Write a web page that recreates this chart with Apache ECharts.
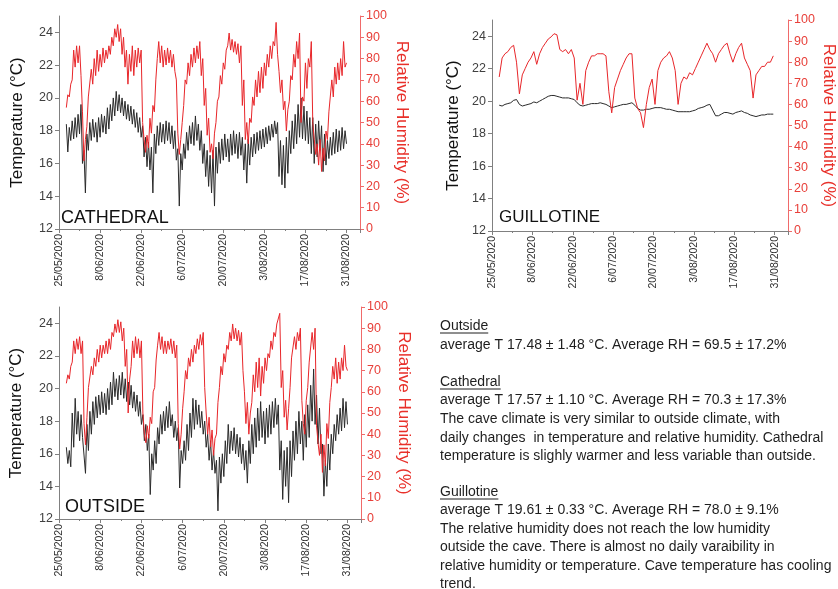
<!DOCTYPE html>
<html><head><meta charset="utf-8">
<script src="https://cdn.jsdelivr.net/npm/echarts@6/dist/echarts.min.js"></script>
<style>html,body{margin:0;padding:0;background:#fff}#c{width:838px;height:589px}</style>
</head><body><div id="c"></div>
<script>
// ---------------- DATA ----------------
// x axis: days since 25/05/2020; major ticks every 14 days
const dateTickLabels = ['25/05/2020','8/06/2020','22/06/2020','6/07/2020','20/07/2020','3/08/2020','17/08/2020','31/08/2020'];
const firstSampleDay = 2.5;   // 27/05/2020 12:00
// Cathedral & Outside: one reading every 12 h (midday, midnight)
const cathedralTemp = [
18.4,16.7, 18.2,17.4, 18.6,17.5, 18.8,17.6, 19.0,17.8, 19.6,16.0, 16.8,14.2, 17.8,16.8,
18.5,17.4, 18.7,17.6, 18.5,17.3, 18.8,17.6, 19.0,17.9, 18.9,17.8, 19.4,18.1, 19.6,18.6,
20.0,18.9, 20.4,19.2, 20.2,19.1, 20.0,18.9, 19.8,18.7, 19.6,18.6, 19.5,18.4, 19.3,18.2,
19.1,17.9, 18.8,17.6, 18.3,16.4, 17.6,15.8, 17.3,15.6, 17.0,14.2, 17.8,16.6, 18.3,17.1,
18.5,17.3, 18.4,17.2, 18.6,17.4, 18.5,17.2, 18.3,16.9, 18.0,16.2, 16.9,13.4, 16.6,15.6,
17.2,16.3, 17.9,16.8, 18.3,17.2, 18.5,17.1, 18.9,17.4, 18.4,16.8, 18.0,16.0, 17.2,15.2,
16.8,14.6, 16.5,14.2, 16.8,13.4, 17.0,15.4, 17.3,16.0, 17.5,16.2, 17.8,16.4, 17.5,16.1,
17.8,16.5, 18.0,16.6, 17.8,16.3, 17.9,16.5, 17.6,15.6, 17.2,14.8, 17.5,15.9, 17.6,16.4,
17.8,16.6, 17.9,16.8, 18.0,16.9, 18.1,17.0, 18.2,17.2, 18.3,17.4, 18.4,17.6, 18.6,17.8,
18.5,15.2, 17.4,14.7, 17.1,14.5, 17.6,15.4, 18.0,16.6, 18.6,16.9, 19.0,17.2, 19.6,17.6,
20.0,17.5, 19.5,17.4, 19.2,17.2, 18.8,16.6, 18.8,16.0, 18.4,16.4, 18.6,16.8, 18.3,15.5,
17.8,15.9, 17.4,16.3, 17.6,16.5, 17.9,16.6, 18.1,16.7, 18.0,16.8, 18.2,16.9, 18.0,17.2
];
const cathedralRH = [
57,63, 62,68, 70,84, 76,86, 78,86, 72,55, 32,42, 48,62,
62,75, 68,80, 72,84, 74,82, 76,85, 78,84, 80,86, 82,90,
86,94, 90,96, 88,94, 82,90, 76,84, 68,82, 74,86, 72,84,
76,85, 78,84, 50,42, 36,44, 38,52, 45,58, 55,70, 80,88,
78,86, 76,84, 77,85, 78,84, 76,82, 74,70, 45,35, 42,50,
58,70, 68,78, 72,82, 76,85, 78,86, 80,88, 72,80, 58,66,
44,52, 36,40, 33,45, 50,60, 62,72, 68,78, 75,84, 86,92,
84,89, 83,88, 82,87, 78,86, 58,70, 42,50, 40,52, 50,62,
58,70, 62,74, 64,76, 66,78, 72,82, 76,86, 80,88, 86,97,
82,74, 64,70, 56,60, 46,56, 60,72, 70,82, 76,88, 80,92,
50,62, 60,78, 66,80, 76,88, 50,42, 35,40, 30,42, 27,38,
32,46, 42,55, 55,70, 62,76, 68,78, 70,80, 72,88, 76,78
];
const outsideTemp = [
16.4,15.4, 16.2,15.2, 18.5,16.4, 19.4,17.2, 18.6,16.8, 18.4,17.0, 17.0,14.8, 17.8,16.2,
18.6,17.2, 19.2,17.8, 19.5,18.2, 19.6,18.4, 19.8,18.5, 19.7,18.4, 20.0,18.7, 20.4,19.0,
21.0,19.5, 20.6,19.3, 20.8,19.6, 21.0,19.4, 20.6,19.2, 20.4,19.0, 20.2,18.8, 19.8,18.6,
19.6,18.3, 19.2,17.8, 18.4,16.8, 17.8,16.2, 17.2,13.5, 16.0,15.0, 16.8,15.4, 17.6,16.6,
18.4,17.2, 18.6,17.4, 18.9,17.6, 19.2,17.7, 18.4,17.0, 18.0,16.8, 17.6,13.9, 16.2,15.4,
16.8,15.6, 17.8,16.2, 18.5,17.0, 19.4,17.5, 19.3,17.8, 19.0,17.6, 18.6,17.2, 18.0,16.4,
17.2,15.6, 16.8,15.0, 16.2,14.8, 15.6,12.5, 15.8,14.2, 16.0,14.6, 16.8,15.4, 17.8,16.0,
17.4,16.2, 17.6,16.0, 17.2,15.8, 17.0,15.4, 16.6,15.0, 16.2,14.2, 16.8,15.4, 17.8,16.0,
18.2,16.4, 18.8,16.8, 19.2,17.0, 18.6,16.6, 18.8,17.0, 19.0,17.2, 19.2,17.6, 19.4,17.8,
19.0,15.0, 16.8,13.2, 16.2,14.0, 16.4,13.0, 16.8,14.6, 17.4,15.6, 18.0,16.0, 18.6,16.6,
18.0,15.6, 18.4,16.4, 19.0,17.0, 20.2,18.0, 21.2,17.8, 19.6,16.6, 18.8,16.0, 16.6,13.4,
15.6,14.0, 16.6,15.0, 17.2,16.0, 17.8,16.8, 18.4,17.2, 18.8,17.4, 19.4,17.6, 19.2,17.8
];
const outsideRH = [
64,68, 66,72, 74,84, 78,85, 80,86, 78,84, 45,35, 48,62,
62,72, 68,76, 72,80, 74,82, 76,82, 78,84, 78,85, 80,88,
86,92, 88,94, 88,93, 84,90, 72,80, 50,66, 72,84, 76,86,
78,85, 76,84, 50,40, 36,44, 38,48, 45,60, 62,75, 82,88,
80,86, 78,84, 78,84, 80,85, 78,84, 76,82, 45,33, 40,52,
60,70, 66,76, 72,80, 74,82, 78,85, 80,87, 82,88, 62,50,
40,48, 34,42, 30,38, 40,55, 62,72, 68,78, 74,82, 80,88,
84,92, 85,90, 84,89, 82,88, 70,60, 45,55, 40,50, 55,68,
60,74, 62,76, 58,72, 64,76, 70,78, 76,84, 80,88, 86,92,
92,97, 62,70, 48,56, 42,52, 62,76, 76,86, 80,88, 84,90,
56,45, 40,56, 62,74, 74,88, 80,90, 44,36, 30,40, 22,35,
25,45, 38,55, 62,72, 66,76, 64,74, 66,76, 70,82, 72,70
];
// Guillotine: one reading per day
const guillotineTemp = [
19.75,19.7,19.8,19.85,19.9,20.05,20.1,19.8,19.7,19.75,19.8,19.85,19.95,19.9,20.0,20.1,
20.2,20.3,20.35,20.35,20.3,20.25,20.2,20.2,20.2,20.15,20.1,19.9,19.75,19.7,19.75,19.8,
19.85,19.85,19.85,19.9,19.85,19.8,19.7,19.6,19.65,19.7,19.75,19.8,19.8,19.85,19.9,19.75,
19.55,19.45,19.45,19.5,19.5,19.55,19.6,19.6,19.6,19.55,19.5,19.5,19.45,19.4,19.35,19.35,
19.35,19.35,19.35,19.4,19.45,19.55,19.6,19.65,19.75,19.8,19.45,19.1,19.1,19.2,19.3,19.3,
19.25,19.2,19.3,19.35,19.4,19.3,19.25,19.15,19.1,19.05,19.1,19.15,19.15,19.2,19.2,19.2
];
const guillotineRH = [
73,82,84,85,87,88,80,65,74,77,80,82,85,79,84,87,
89,91,92,93.5,93,86,85,86,84,86,82,62,70,60,76,80,
83,83,84,84,84,83,66,56,68,72,76,79,82,84,84,63,
58,56,49,60,68,72,60,76,80,82,83,85,82,76,60,70,
73,72,75,74,77,80,83,86,89,86,84,80,84,86,88,89,
84,80,84,87,89,82,79,76,63,74,76,78,78,80,80,83
];
const panelNames = ['CATHEDRAL','GUILLOTINE','OUTSIDE'];
const noteLines = [
  {text:'Outside', head:true},
  {text:'average T 17.48 \u00b1 1.48 \u00b0C. Average RH = 69.5 \u00b1 17.2%'},
  {text:'Cathedral', head:true},
  {text:'average T 17.57 \u00b1 1.10 \u00b0C. Average RH = 70.3 \u00b1 17.3%'},
  {text:'The cave climate is very similar to outside climate, with'},
  {text:'daily changes  in temperature and relative humidity. Cathedral'},
  {text:'temperature is slighly warmer and less variable than outside.'},
  {text:'Guillotine', head:true},
  {text:'average T 19.61 \u00b1 0.33 \u00b0C. Average RH = 78.0 \u00b1 9.1%'},
  {text:'The relative humidity does not reach the low humidity'},
  {text:'outside the cave. There is almost no daily varaibility in'},
  {text:'relative humidity or temperature. Cave temperature has cooling'},
  {text:'trend.'}
];

// ---------------- CHART ----------------
const FONT = 'Liberation Sans, Arial, sans-serif';
const halfDay = arr => arr.map((v, i) => [firstSampleDay + i * 0.5, v]);
const daily = arr => arr.map((v, i) => [firstSampleDay + i, v]);

const grids = [
  {left: 59, top: 16, width: 301, height: 213},
  {left: 492, top: 20, width: 301, height: 211},
  {left: 59, top: 307, width: 302, height: 212}
];
const leftGap = [33, 30, 34], rightGap = [33, 32, 34];

const xAxes = grids.map((g, i) => ({
  type: 'value', gridIndex: i, min: 0, max: 102.6, interval: 14,
  axisLine: {onZero: false, lineStyle: {color: '#808080', width: 1}},
  axisTick: {show: true, length: 4, lineStyle: {color: '#808080'}},
  minorTick: {show: true, splitNumber: 2, length: 2, lineStyle: {color: '#808080'}},
  splitLine: {show: false},
  axisLabel: {rotate: 90, fontSize: 10.5, fontFamily: FONT, color: '#303030', margin: 5, showMaxLabel: false,
    formatter: v => (Math.abs(v % 14) < 1e-6 ? (dateTickLabels[Math.round(v / 14)] || '') : '')}
}));
const yAxes = [];
grids.forEach((g, i) => {
  yAxes.push({
    type: 'value', gridIndex: i, position: 'left', min: 12, max: 25, interval: 2,
    axisLine: {show: true, onZero: false, lineStyle: {color: '#808080', width: 1}},
    axisTick: {show: true, length: 4, lineStyle: {color: '#808080'}},
    splitLine: {show: false},
    axisLabel: {showMaxLabel: false, fontSize: 12.5, fontFamily: FONT, color: '#404040', margin: 6},
    name: 'Temperature (\u00b0C)', nameLocation: 'middle', nameGap: leftGap[i],
    nameTextStyle: {fontSize: 17, fontFamily: FONT, color: '#111'}
  });
  yAxes.push({
    type: 'value', gridIndex: i, position: 'right', min: 0, max: 100, interval: 10,
    axisLine: {show: true, onZero: false, lineStyle: {color: '#f06a6a', width: 1}},
    axisTick: {show: true, length: 4, lineStyle: {color: '#f06a6a'}},
    splitLine: {show: false},
    axisLabel: {fontSize: 12.5, fontFamily: FONT, color: '#e8403a', margin: 6},
    name: 'Relative Humidity (%)', nameLocation: 'middle', nameRotate: -90, nameGap: rightGap[i],
    nameTextStyle: {fontSize: 17, fontFamily: FONT, color: '#e8302a'}
  });
});

const tempStyle = {color: '#2a2a2a', width: 1};
const rhStyle = {color: '#e8262a', width: 1};
function line(data, gi, right, style, z) {
  return {type: 'line', xAxisIndex: gi, yAxisIndex: gi * 2 + (right ? 1 : 0), data: data,
    showSymbol: false, symbol: 'none', lineStyle: style, silent: true, z: z, animation: false};
}
const series = [
  line(halfDay(cathedralTemp), 0, false, tempStyle, 2),
  line(halfDay(cathedralRH), 0, true, rhStyle, 3),
  line(daily(guillotineTemp), 1, false, tempStyle, 2),
  line(daily(guillotineRH), 1, true, rhStyle, 3),
  line(halfDay(outsideTemp), 2, false, tempStyle, 2),
  line(halfDay(outsideRH), 2, true, rhStyle, 3)
];

// text graphics
const graphic = [];
const panelPos = [[61, 218.5, 18], [499, 217.5, 17], [65, 507, 18]];
panelNames.forEach((t, i) => graphic.push({
  type: 'text', x: panelPos[i][0], y: panelPos[i][1], silent: true,
  style: {text: t, fontSize: panelPos[i][2], fontFamily: FONT, fill: '#111', verticalAlign: 'middle', textVerticalAlign: 'middle'}
}));
const noteY = [326, 345, 382, 400, 419, 438, 456, 492, 510, 529, 547, 566, 584];
const noteSize = 14;
const mctx = document.createElement('canvas').getContext('2d');
mctx.font = noteSize + 'px ' + FONT;
noteLines.forEach((l, i) => {
  graphic.push({type: 'text', x: 440, y: noteY[i], silent: true,
    style: {text: l.text, fontSize: noteSize, fontFamily: FONT, fill: '#1e1e1e', verticalAlign: 'middle', textVerticalAlign: 'middle'}});
  if (l.head) {
    const w = mctx.measureText(l.text).width;
    graphic.push({type: 'line', silent: true, shape: {x1: 440, y1: noteY[i] + 7, x2: 440 + w, y2: noteY[i] + 7},
      style: {stroke: '#1e1e1e', lineWidth: 1}});
  }
});

const chart = echarts.init(document.getElementById('c'), null, {renderer: 'canvas'});
chart.setOption({
  animation: false,
  backgroundColor: '#fff',
  grid: grids,
  xAxis: xAxes,
  yAxis: yAxes,
  series: series,
  graphic: graphic
});
</script>
</body></html>
